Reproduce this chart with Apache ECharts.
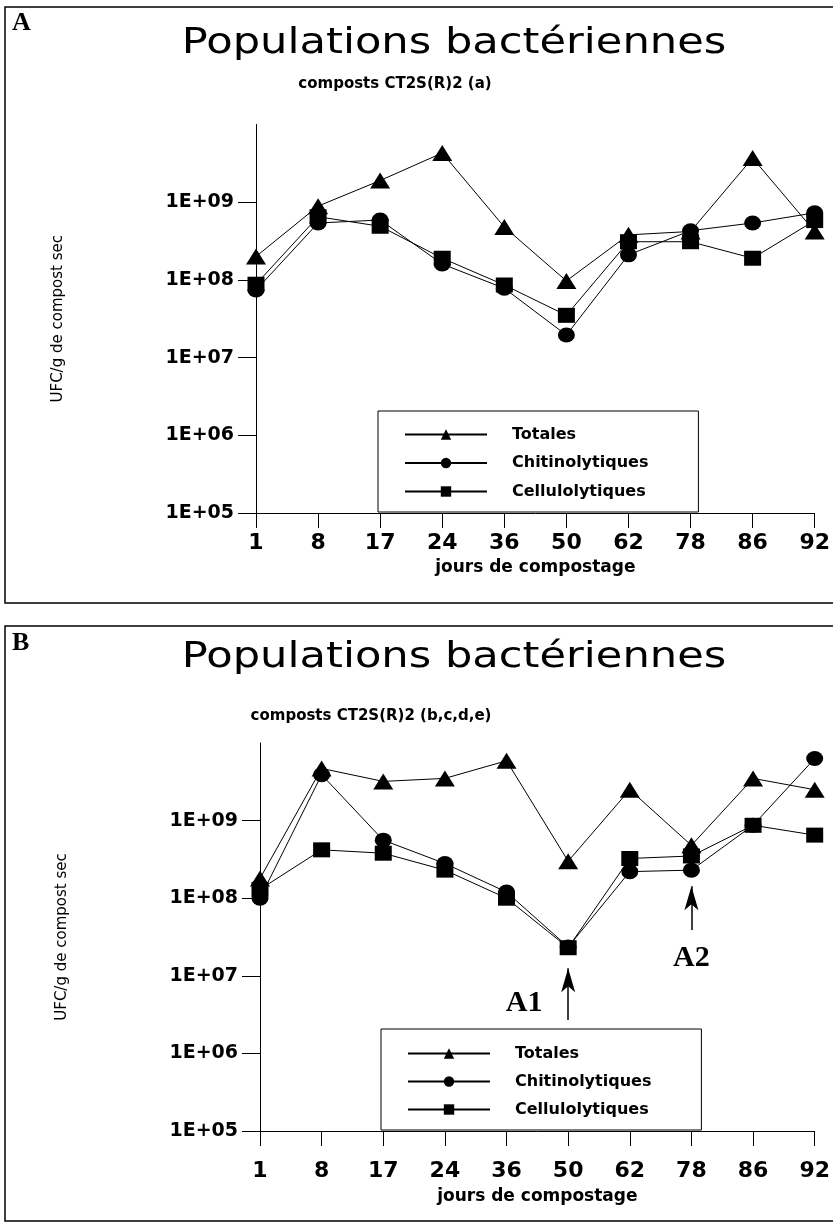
<!DOCTYPE html>
<html>
<head>
<meta charset="utf-8">
<script src="https://cdn.jsdelivr.net/npm/echarts@6/dist/echarts.min.js"></script>
<style>
html,body{margin:0;padding:0;background:#fff;}
#c{width:833px;height:1222px;}
</style>
</head>
<body>
<div id="c"></div>
<script>
// ---------- data ----------
const days = ['1','8','17','24','36','50','62','78','86','92'];
const seriesNames = ['Totales','Chitinolytiques','Cellulolytiques'];
const yTickValues = [1e5,1e6,1e7,1e8,1e9];
const yTickLabels = ['1E+05','1E+06','1E+07','1E+08','1E+09'];

// Panel A : composts CT2S(R)2 (a)
const totalesA = [2.0e8, 8.9e8, 1.9e9, 4.3e9, 4.8e8, 9.7e7, 3.8e8, 4.2e8, 3.7e9, 4.2e8];
const chitinoA = [7.4e7, 5.4e8, 5.9e8, 1.6e8, 7.8e7, 1.95e7, 2.1e8, 4.3e8, 5.4e8, 7.3e8];
const celluloA = [8.8e7, 6.5e8, 4.9e8, 1.9e8, 8.6e7, 3.5e7, 3.1e8, 3.1e8, 1.9e8, 5.8e8];

// Panel B : composts CT2S(R)2 (b,c,d,e)
const totalesB = [1.8e8, 4.7e9, 3.2e9, 3.5e9, 5.9e9, 3.0e8, 2.5e9, 4.8e8, 3.5e9, 2.5e9];
const chitinoB = [1.0e8, 3.9e9, 5.6e8, 2.8e8, 1.2e8, 2.35e7, 2.2e8, 2.3e8, 8.7e8, 6.3e9];
const celluloB = [1.3e8, 4.2e8, 3.8e8, 2.3e8, 1.0e8, 2.3e7, 3.25e8, 3.5e8, 8.7e8, 6.5e8];

// annotations (panel B): arrows (from -> tip values) and their labels
const arrowDays = ['50','78'];
const arrowFrom = [2.7e6, 3.9e7];
const arrowTo = [1.25e7, 1.43e8];
const arrowLabels = ['A1','A2'];
const arrowLabelVals = [4.4e6, 1.7e7];

// ---------- chart ----------
const chart = echarts.init(document.getElementById('c'));
const FONT = 'DejaVu Sans';
const symbols = ['triangle','circle','rect'];
const symSizes = [[20,16],[17,15],[17,15]];

function yAxis(gi){
  return {
    type:'log', logBase:10, gridIndex:gi, min:1e5, max:1e10,
    axisLine:{show:true, lineStyle:{color:'#000', width:1}},
    axisTick:{show:true, inside:false, length:18, lineStyle:{color:'#000', width:1}, customValues:yTickValues},
    axisLabel:{show:true, margin:22, color:'#000', fontFamily:FONT, fontWeight:'bold', fontSize:19,
      customValues:yTickValues,
      formatter:function(v){ const i = yTickValues.findIndex(t=>Math.abs(Math.log10(t)-Math.log10(v))<1e-6); return i>=0?yTickLabels[i]:''; }},
    splitLine:{show:false},
    name:'UFC/g de compost sec', nameLocation:'middle', nameRotate:90, nameGap:190,
    nameTextStyle:{color:'#000', fontFamily:FONT, fontSize:15}
  };
}
function xAxis(gi, margin, nameGap){
  return {
    type:'category', gridIndex:gi, data:days, boundaryGap:false,
    axisLine:{show:true, onZero:false, lineStyle:{color:'#000', width:1}},
    axisTick:{show:true, inside:false, length:15, lineStyle:{color:'#000', width:1}},
    axisLabel:{margin:margin, color:'#000', fontFamily:FONT, fontWeight:'bold', fontSize:22, interval:0},
    splitLine:{show:false},
    name:'jours de compostage', nameLocation:'middle', nameGap:nameGap,
    nameTextStyle:{color:'#000', fontFamily:FONT, fontWeight:'bold', fontSize:17}
  };
}
function mkSeries(gi, arrs){
  return arrs.map((d,i)=>({
    name:seriesNames[i], type:'line', xAxisIndex:gi, yAxisIndex:gi, data:d,
    symbol:symbols[i], symbolSize:symSizes[i], showSymbol:true, clip:false,
    lineStyle:{color:'#000', width:1}, itemStyle:{color:'#000'},
    emphasis:{disabled:true}, animation:false, z:3-i
  }));
}
function legend(left, top, padTop, gap){
  return {
    orient:'vertical', left:left, top:top, padding:[padTop,50,12.5,26], itemGap:gap,
    itemWidth:82, itemHeight:13, borderColor:'#000', borderWidth:1, backgroundColor:'#fff',
    selectedMode:false, data:seriesNames,
    textStyle:{color:'#000', fontFamily:FONT, fontWeight:'bold', fontSize:16, padding:[0,0,0,20]}
  };
}

const seriesA = mkSeries(0,[totalesA, chitinoA, celluloA]);
const seriesB = mkSeries(1,[totalesB, chitinoB, celluloB]);
// arrow shafts
seriesB[0].markLine = {
  silent:true, animation:false, symbol:['none','none'],
  lineStyle:{color:'#000', width:1.5, type:'solid'}, label:{show:false},
  data: arrowDays.map((d,i)=>[{coord:[d, arrowFrom[i]]},{coord:[d, arrowTo[i]]}])
};
// arrow heads (tip at arrowTo)
seriesB[2].markPoint = {
  silent:true, animation:false, symbol:'path://M0,0L7,24L0,18L-7,24Z', symbolSize:[14,24],
  symbolOffset:[0,'50%'], itemStyle:{color:'#000'}, label:{show:false},
  data: arrowDays.map((d,i)=>({coord:[d, arrowTo[i]]}))
};
// arrow labels
seriesB[1].markPoint = {
  silent:true, animation:false, symbol:'circle', symbolSize:1, itemStyle:{color:'rgba(0,0,0,0)'},
  data: arrowDays.map((d,i)=>({coord:[d, arrowLabelVals[i]],
    label:{show:true, position:'inside', formatter:arrowLabels[i], offset: i===0?[-44,0]:[0,0],
      color:'#000', fontFamily:'Liberation Serif', fontWeight:'bold', fontSize:30}}))
};

const option = {
  animation:false,
  backgroundColor:'#fff',
  grid:[
    {left:256, top:124.5, width:564, height:388.5, containLabel:false},
    {left:260, top:743, width:564, height:388, containLabel:false}
  ],
  xAxis:[xAxis(0,19,46.5), xAxis(1,29,57.5)],
  yAxis:[yAxis(0), yAxis(1)],
  legend:[legend(378,411,15.5,12.5), legend(381,1029,16.5,12)],
  series:[...seriesA, ...seriesB],
  graphic:[
    {type:'rect', shape:{x:5, y:7, width:900, height:596}, style:{fill:'none', stroke:'#000', lineWidth:1.5}, silent:true},
    {type:'rect', shape:{x:5, y:626, width:900, height:595}, style:{fill:'none', stroke:'#000', lineWidth:1.5}, silent:true},
    {type:'text', x:12, y:10, style:{text:'A', font:'bold 26px "Liberation Serif"', fill:'#000'}},
    {type:'text', x:12, y:630, style:{text:'B', font:'bold 26px "Liberation Serif"', fill:'#000'}},
    {type:'text', x:454, y:44, scaleX:1.2, style:{text:'Populations bactériennes', font:'36px "DejaVu Sans"', fill:'#000', textAlign:'center', textVerticalAlign:'middle'}},
    {type:'text', x:395, y:84, style:{text:'composts CT2S(R)2 (a)', font:'bold 15px "DejaVu Sans"', fill:'#000', textAlign:'center', textVerticalAlign:'middle'}},
    {type:'text', x:454, y:658, scaleX:1.2, style:{text:'Populations bactériennes', font:'36px "DejaVu Sans"', fill:'#000', textAlign:'center', textVerticalAlign:'middle'}},
    {type:'text', x:371, y:716, style:{text:'composts CT2S(R)2 (b,c,d,e)', font:'bold 15px "DejaVu Sans"', fill:'#000', textAlign:'center', textVerticalAlign:'middle'}}
  ]
};
chart.setOption(option);
</script>
</body>
</html>
